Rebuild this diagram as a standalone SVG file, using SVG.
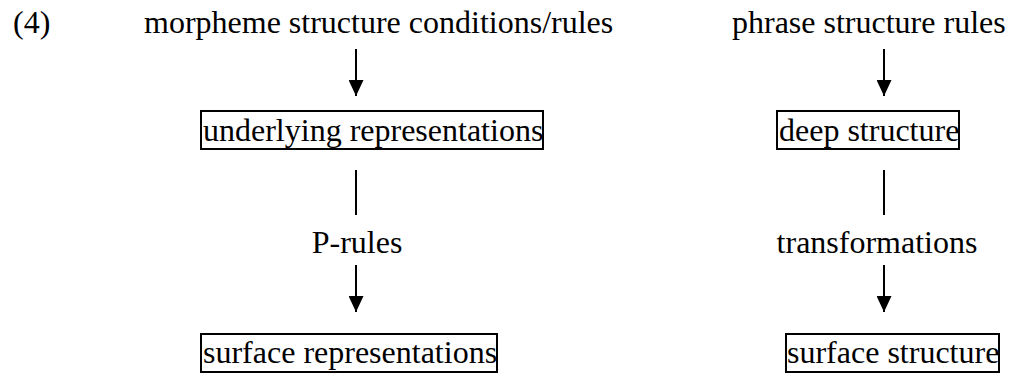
<svg xmlns="http://www.w3.org/2000/svg" width="1021" height="374" viewBox="0 0 1021 374">
<style>
text{font-family:"Liberation Serif","Times New Roman",serif;font-size:32px;fill:#000}
.box{fill:none;stroke:#000;stroke-width:2}
.ln{stroke:#000;stroke-width:2;fill:none}
</style>
<defs>
<marker id="ah" markerUnits="userSpaceOnUse" markerWidth="16" markerHeight="15" refX="16" refY="7.5" orient="auto">
<path d="M0,0 L16,7.5 L0,15 Z" fill="#000"/>
</marker>
</defs>
<rect width="1021" height="374" fill="#fff"/>
<text id="label4" x="13" y="33">(4)</text>
<g id="msc"><text x="144" y="33">morpheme structure conditions/rules</text></g>
<g id="psr"><text x="732" y="33">phrase structure rules</text></g>
<g id="ur"><rect class="box" x="201" y="111" width="342" height="38"/><text x="203" y="141">underlying representations</text></g>
<g id="ds"><rect class="box" x="777" y="111" width="182" height="38"/><text x="779" y="141">deep structure</text></g>
<g id="sr"><rect class="box" x="201" y="334" width="296" height="38"/><text x="203" y="363">surface representations</text></g>
<g id="ss"><rect class="box" x="786" y="334" width="213" height="38"/><text x="787" y="363">surface structure</text></g>
<g id="connectors">
<line class="ln" x1="356" y1="49" x2="356" y2="96" marker-end="url(#ah)"/>
<line class="ln" x1="884" y1="49" x2="884" y2="96" marker-end="url(#ah)"/>
<line class="ln" x1="356" y1="170" x2="356" y2="215"/>
<line class="ln" x1="884" y1="170" x2="884" y2="215"/>
<text x="357" y="253" text-anchor="middle">P-rules</text>
<text x="877" y="253" text-anchor="middle">transformations</text>
<line class="ln" x1="356" y1="265" x2="356" y2="312" marker-end="url(#ah)"/>
<line class="ln" x1="884" y1="265" x2="884" y2="312" marker-end="url(#ah)"/>
</g>
</svg>
